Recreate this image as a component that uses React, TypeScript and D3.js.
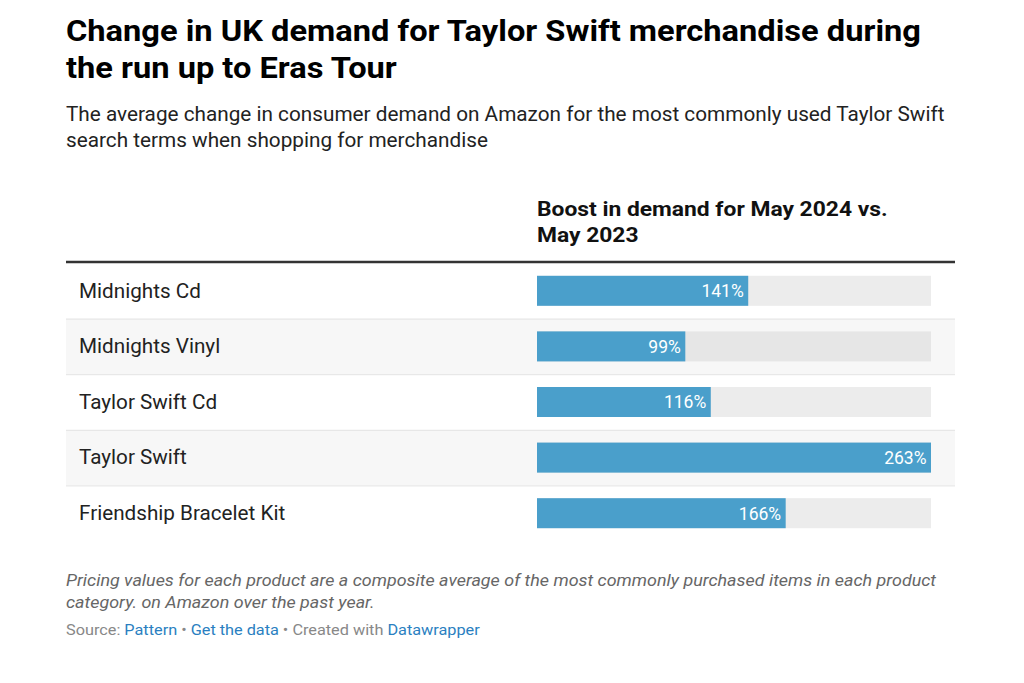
import React from "react";
import * as d3 from "d3";

const categories = ["Midnights Cd", "Midnights Vinyl", "Taylor Swift Cd", "Taylor Swift", "Friendship Bracelet Kit"];
const values = [141, 99, 116, 263, 166];
const titleLines = ["Change in UK demand for Taylor Swift merchandise during", "the run up to Eras Tour"];
const subtitleLines = [
  "The average change in consumer demand on Amazon for the most commonly used Taylor Swift",
  "search terms when shopping for merchandise",
];
const headerLines = ["Boost in demand for May 2024 vs.", "May 2023"];
const noteLines = [
  "Pricing values for each product are a composite average of the most commonly purchased items in each product",
  "category. on Amazon over the past year.",
];

const W = 1024;
const H = 683;
const FONT = "Roboto, 'Noto Sans', sans-serif";

function T(props: { x: number; y: number; sx: number; children: React.ReactNode; [k: string]: any }) {
  const { x, y, sx, children, ...rest } = props;
  return (
    <text transform={`translate(${x},${y}) scale(${sx},1)`} {...rest}>
      {children}
    </text>
  );
}

export default function App() {
  const left = 66;
  const right = 955;
  const barX0 = 537;
  const barX1 = 931;
  const tableTop = 263;
  const rowH = 55.6;

  const x = d3.scaleLinear().domain([0, d3.max(values) as number]).range([barX0, barX1]);
  const y = d3
    .scaleBand<string>()
    .domain(categories)
    .range([tableTop, tableTop + rowH * categories.length])
    .paddingInner(0)
    .paddingOuter(0);
  const barH = 30;

  return (
    <div style={{ margin: -8, width: W, height: H, background: "#fff" }}>
      <svg width={W} height={H} style={{ display: "block", fontFamily: FONT }}>
        <rect width={W} height={H} fill="#fff" />
        {titleLines.map((t, i) => (
          <T key={t} x={left} y={40.5 + i * 37.5} sx={1.125} fontSize={29} fontWeight={700} fill="#000">
            {t}
          </T>
        ))}
        {subtitleLines.map((t, i) => (
          <T key={t} x={left} y={121 + i * 25.5} sx={1.064} fontSize={19.5} fill="#222">
            {t}
          </T>
        ))}
        {headerLines.map((t, i) => (
          <T key={t} x={barX0} y={216 + i * 25.5} sx={1.087} fontSize={21} fontWeight={700} fill="#111">
            {t}
          </T>
        ))}
        {categories.map((c, i) => {
          const y0 = y(c) as number;
          const bw = y.bandwidth();
          return (
            <g key={c}>
              {i % 2 === 1 && <rect x={left} y={y0} width={right - left} height={bw} fill="#f7f7f7" />}
              {i > 0 && <line x1={left} x2={right} y1={y0 + 0.5} y2={y0 + 0.5} stroke="#e3e3e3" strokeWidth={1} />}
              <T x={79} y={y0 + bw / 2 + 6.8} sx={1.05} fontSize={19.7} fill="#222">
                {c}
              </T>
              <rect x={barX0} y={y0 + (bw - barH) / 2} width={barX1 - barX0} height={barH} fill={i % 2 === 1 ? "#e6e6e6" : "#ececec"} />
              <rect x={barX0} y={y0 + (bw - barH) / 2} width={x(values[i]) - barX0} height={barH} fill="#4a9fcb" />
              <text x={x(values[i]) - 4.5} y={y0 + bw / 2 + 6.3} fontSize={17.5} fill="#fff" textAnchor="end">
                {values[i]}%
              </text>
            </g>
          );
        })}
        <line x1={left} x2={right} y1={tableTop - 1} y2={tableTop - 1} stroke="#333" strokeWidth={2.5} />
        {noteLines.map((t, i) => (
          <T key={t} x={left} y={586 + i * 21.5} sx={1.054} fontSize={17} fontStyle="italic" fill="#666">
            {t}
          </T>
        ))}
        <T x={left} y={635} sx={1.05} fontSize={15.5} fill="#888">
          <tspan>Source: </tspan>
          <tspan fill="#2a7fc1">Pattern</tspan>
          <tspan> • </tspan>
          <tspan fill="#2a7fc1">Get the data</tspan>
          <tspan> • Created with </tspan>
          <tspan fill="#2a7fc1">Datawrapper</tspan>
        </T>
      </svg>
    </div>
  );
}
